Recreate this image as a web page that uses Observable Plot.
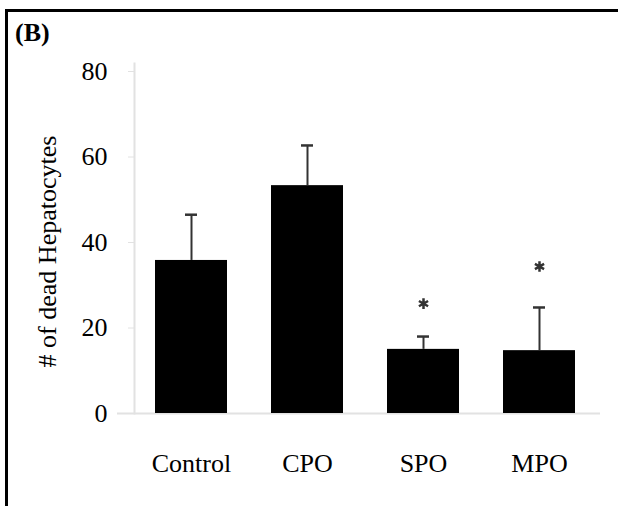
<!DOCTYPE html>
<html><head><meta charset="utf-8">
<script src="https://cdn.jsdelivr.net/npm/d3@7"></script>
<script src="https://cdn.jsdelivr.net/npm/@observablehq/plot@0.6"></script>
<style>
html,body{margin:0;padding:0;background:#fff;}
#wrap{position:relative;width:618px;height:506px;overflow:hidden;font-family:"Liberation Serif","Times New Roman",serif;}
#border{position:absolute;left:5px;top:9px;right:-10px;bottom:-10px;border-top:3px solid #000;border-left:3px solid #000;pointer-events:none;}
#panel{position:absolute;left:15px;top:20px;font-size:26px;font-weight:bold;line-height:1;}
#chart{position:absolute;left:0;top:0;}
#chart svg text{font-family:"Liberation Serif","Times New Roman",serif;}
</style></head><body>
<div id="wrap"><div id="chart"></div><div id="border"></div><div id="panel">(B)</div></div>
<script>
const categories = ["Control", "CPO", "SPO", "MPO"];
const means = [35.8, 53.3, 15.0, 14.7];
const errors = [10.7, 9.4, 3.0, 10.1];
const sigCategories = ["SPO", "MPO"];
const sigPositions = [25.7, 34.4];
const yTicks = [0, 20, 40, 60, 80];
const yLabel = "# of dead Hepatocytes";

const data = categories.map((c, i) => ({category: c, mean: means[i], err: errors[i]}));
const sig = sigCategories.map((c, i) => ({category: c, y: sigPositions[i]}));
const font = '"Liberation Serif","Times New Roman",serif';
const axisGrey = "#e2e2e2";

const plot = Plot.plot({
  width: 618, height: 506,
  marginTop: 71, marginBottom: 93, marginLeft: 120, marginRight: 8,
  style: {fontFamily: font, fontSize: "26px", background: "transparent", color: "#000"},
  x: {domain: categories, paddingInner: 0.379, paddingOuter: 0.3, label: null},
  y: {domain: [0, 80], label: null},
  marks: [
    Plot.frame({anchor: "left", stroke: axisGrey, strokeWidth: 2, dx: 14, insetTop: -8}),
    Plot.ruleY([0], {stroke: axisGrey, strokeWidth: 2, insetLeft: -3, insetRight: 10}),
    Plot.axisY(yTicks, {tickSize: 6, dx: 14, fill: "none", stroke: axisGrey, label: null}),
    Plot.axisY(yTicks, {tickSize: 0, tickPadding: 13, label: null, fontSize: 26, fontFamily: font}),
    Plot.axisX({tickSize: 0, tickPadding: 40, label: null, fontSize: 26, fontFamily: font}),
    Plot.barY(data, {x: "category", y: "mean", fill: "#000"}),
    Plot.ruleX(data, {x: "category", y1: "mean", y2: d => d.mean + d.err, stroke: "#333", strokeWidth: 2}),
    Plot.tickY(data, {x: "category", y: d => d.mean + d.err, stroke: "#333", strokeWidth: 2.5, insetLeft: 30, insetRight: 30}),
    Plot.dot(sig, {x: "category", y: "y", symbol: "asterisk", r: 5, stroke: "#333", strokeWidth: 2.5}),
    Plot.text([yLabel], {frameAnchor: "left", textAnchor: "middle", rotate: -90, dx: -73, dy: 9, fontSize: 26, fontFamily: font})
  ]
});
document.getElementById("chart").appendChild(plot);
</script>
</body></html>
